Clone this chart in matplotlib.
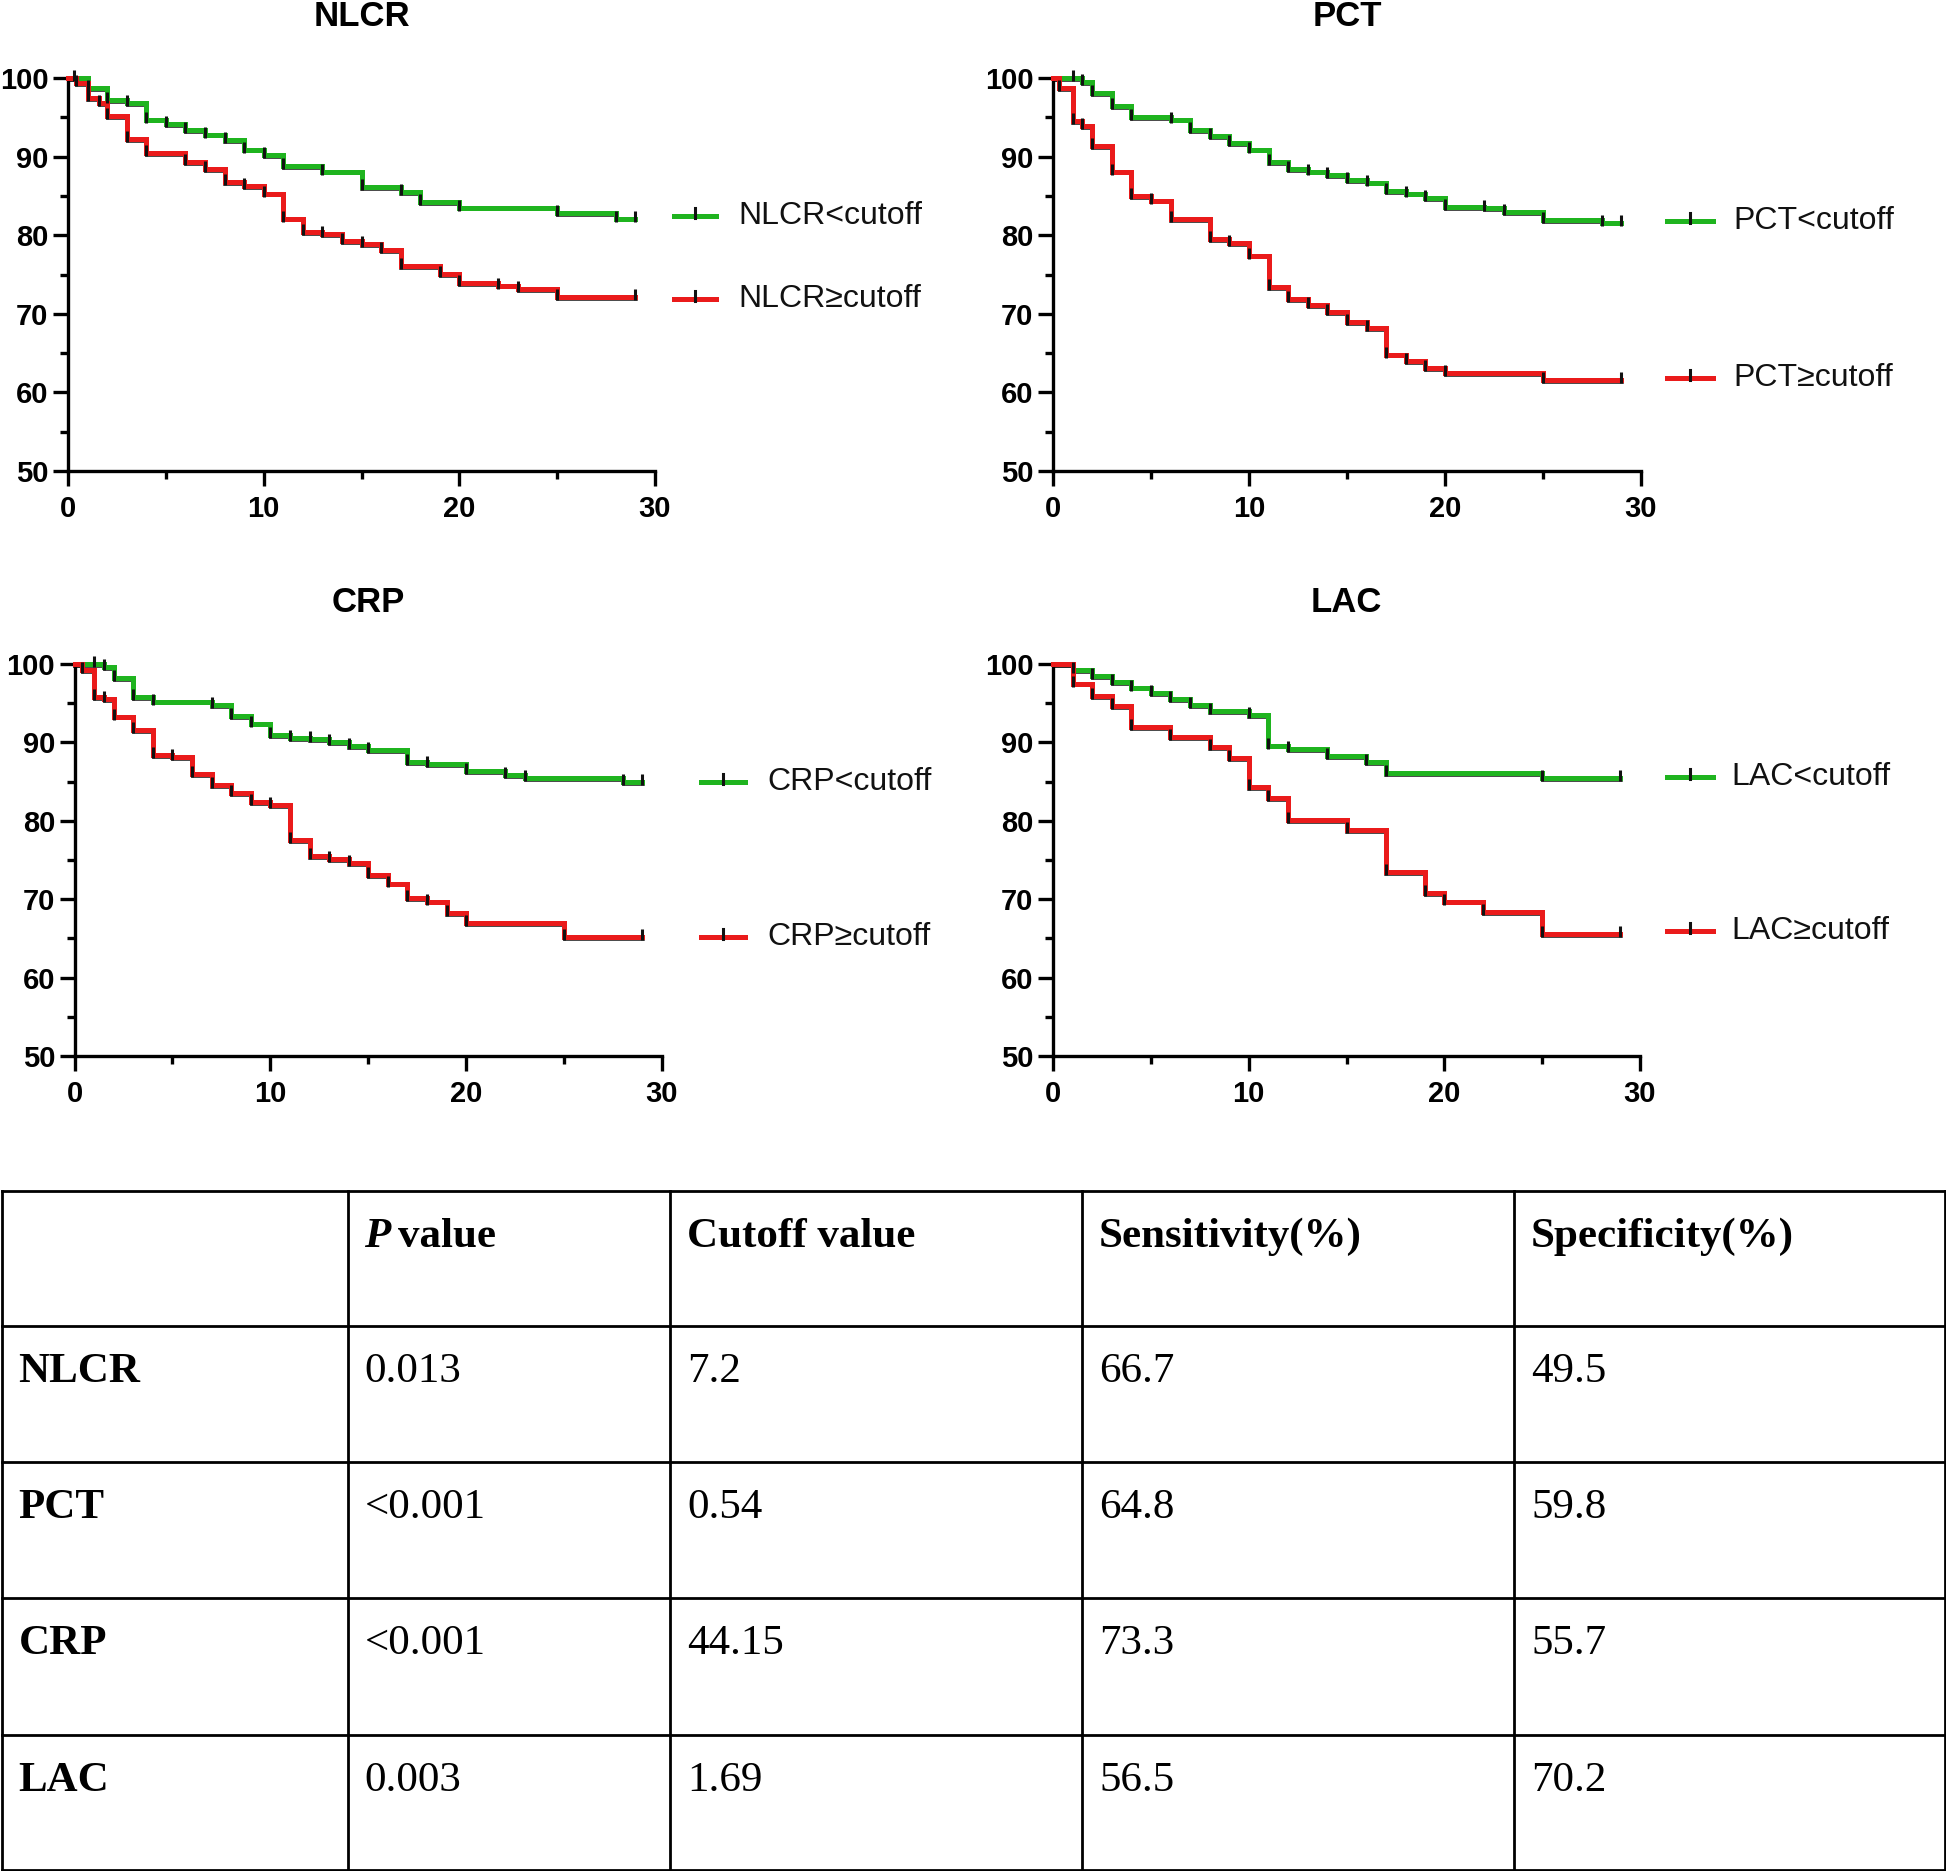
import numpy as np
import matplotlib
matplotlib.use("Agg")
import matplotlib.pyplot as plt
from matplotlib.lines import Line2D
import matplotlib.transforms as mtransforms

W, H = 1946, 1871
DPI = 100

GREEN = "#1fb41f"
RED = "#ea1b1b"

# ---------------- data ----------------
titles = ["NLCR", "PCT", "CRP", "LAC"]

nlcr_lo_t = [0, 1, 2, 3, 4, 5, 6, 7, 8, 9, 10, 11, 13, 15, 17, 18, 20, 25, 28, 29]
nlcr_lo_s = [100, 98.7, 97.2, 96.8, 94.7, 94.1, 93.4, 92.8, 92.1, 90.9, 90.2, 88.8, 88.1, 86.1, 85.5, 84.2, 83.5, 82.8, 82.1, 82.1]
nlcr_lo_c = [0.3, 1, 2, 3, 4, 5, 6, 7, 8, 9, 10, 11, 13, 15, 17, 18, 20, 25, 28, 29]
nlcr_hi_t = [0, 0.4, 1, 1.6, 2, 3, 4, 6, 7, 8, 9, 10, 11, 12, 13, 14, 15, 16, 17, 19, 20, 22, 23, 25, 29]
nlcr_hi_s = [100, 99.4, 97.4, 96.8, 95.2, 92.2, 90.4, 89.3, 88.4, 86.8, 86.2, 85.3, 82.1, 80.4, 80.1, 79.3, 78.9, 78.1, 76.1, 75.1, 73.9, 73.6, 73.1, 72.1, 72.1]
nlcr_hi_c = [0.4, 1, 1.6, 2, 3, 4, 6, 7, 8, 9, 10, 11, 12, 13, 14, 15, 16, 17, 19, 20, 22, 23, 25, 29]

pct_lo_t = [0, 1.5, 2, 3, 4, 6, 7, 8, 9, 10, 11, 12, 13, 14, 15, 16, 17, 18, 19, 20, 22, 23, 25, 28, 29]
pct_lo_s = [100, 99.5, 98.1, 96.4, 95.0, 94.7, 93.4, 92.6, 91.7, 90.9, 89.3, 88.4, 88.1, 87.6, 87.0, 86.7, 85.6, 85.3, 84.7, 83.6, 83.4, 82.9, 81.9, 81.6, 81.6]
pct_lo_c = [1, 1.5, 2, 3, 4, 6, 7, 8, 9, 10, 11, 12, 13, 14, 15, 16, 17, 18, 19, 20, 22, 23, 25, 28, 29]
pct_hi_t = [0, 0.3, 1, 1.5, 2, 3, 4, 5, 6, 8, 9, 10, 11, 12, 13, 14, 15, 16, 17, 18, 19, 20, 25, 29]
pct_hi_s = [100, 98.7, 94.5, 93.9, 91.3, 88.1, 85.0, 84.4, 82.0, 79.5, 79.0, 77.4, 73.4, 71.9, 71.1, 70.2, 68.9, 68.2, 64.8, 64.0, 63.1, 62.5, 61.6, 61.6]
pct_hi_c = [0.3, 1, 1.5, 2, 3, 4, 5, 6, 8, 9, 10, 11, 12, 13, 14, 15, 16, 17, 18, 19, 20, 25, 29]

crp_lo_t = [0, 1.5, 2, 3, 4, 7, 8, 9, 10, 11, 12, 13, 14, 15, 17, 18, 20, 22, 23, 28, 29]
crp_lo_s = [100, 99.6, 98.2, 95.8, 95.2, 94.8, 93.4, 92.4, 90.9, 90.6, 90.4, 90.0, 89.5, 89.0, 87.5, 87.2, 86.3, 85.8, 85.4, 84.9, 84.9]
crp_lo_c = [1, 1.5, 2, 3, 4, 7, 8, 9, 10, 11, 12, 13, 14, 15, 17, 18, 20, 22, 23, 28, 29]
crp_hi_t = [0, 0.4, 1, 1.5, 2, 3, 4, 5, 6, 7, 8, 9, 10, 11, 12, 13, 14, 15, 16, 17, 18, 19, 20, 25, 29]
crp_hi_s = [100, 99.2, 95.8, 95.5, 93.3, 91.6, 88.4, 88.1, 86.0, 84.6, 83.5, 82.4, 82.0, 77.5, 75.5, 75.1, 74.6, 73.1, 72.0, 70.1, 69.7, 68.2, 67.0, 65.2, 65.2]
crp_hi_c = [0.4, 1, 1.5, 2, 3, 4, 5, 6, 7, 8, 9, 10, 11, 12, 13, 14, 15, 16, 17, 18, 19, 20, 25, 29]

lac_lo_t = [0, 1, 2, 3, 4, 5, 6, 7, 8, 10, 11, 12, 14, 16, 17, 25, 29]
lac_lo_s = [100, 99.2, 98.5, 97.7, 97.0, 96.3, 95.5, 94.8, 94.0, 93.5, 89.6, 89.1, 88.3, 87.5, 86.1, 85.4, 85.4]
lac_lo_c = [1, 2, 3, 4, 5, 6, 7, 8, 10, 11, 12, 14, 16, 17, 25, 29]
lac_hi_t = [0, 1, 2, 3, 4, 6, 8, 9, 10, 11, 12, 15, 17, 19, 20, 22, 25, 29]
lac_hi_s = [100, 97.5, 95.9, 94.6, 92.0, 90.7, 89.4, 88.0, 84.3, 82.9, 80.1, 78.8, 73.5, 70.8, 69.7, 68.4, 65.6, 65.6]
lac_hi_c = [1, 2, 3, 4, 6, 8, 9, 10, 11, 12, 15, 17, 19, 20, 22, 25, 29]

curves = [
    (nlcr_lo_t, nlcr_lo_s, nlcr_lo_c, nlcr_hi_t, nlcr_hi_s, nlcr_hi_c),
    (pct_lo_t, pct_lo_s, pct_lo_c, pct_hi_t, pct_hi_s, pct_hi_c),
    (crp_lo_t, crp_lo_s, crp_lo_c, crp_hi_t, crp_hi_s, crp_hi_c),
    (lac_lo_t, lac_lo_s, lac_lo_c, lac_hi_t, lac_hi_s, lac_hi_c),
]

x_ticks = [0, 10, 20, 30]
y_ticks = [50, 60, 70, 80, 90, 100]

table_header = ["", "P value", "Cutoff value", "Sensitivity(%)", "Specificity(%)"]
table_rows = ["NLCR", "PCT", "CRP", "LAC"]
p_values = ["0.013", "<0.001", "<0.001", "0.003"]
cutoff_values = ["7.2", "0.54", "44.15", "1.69"]
sensitivity = ["66.7", "64.8", "73.3", "56.5"]
specificity = ["49.5", "59.8", "55.7", "70.2"]

# ---------------- layout (pixels) ----------------
panel_px = [
    (68, 655, 78, 471),
    (1053, 1641, 78, 471),
    (74.5, 662, 664, 1056),
    (1053, 1640, 664, 1056),
]
legend_px = [
    (674, 716, 738, 216, 299),
    (1667, 1713, 1733, 221, 378),
    (701, 745, 767, 782, 937),
    (1667, 1713, 1731, 777, 931),
]

fig = plt.figure(figsize=(W / DPI, H / DPI), dpi=DPI)


def fx(x):
    return x / W


def fy(y):
    return 1 - y / H


tick_marker = [(0, -0.45), (0, 1.0)]

for i, (ax_px, title, cv, lg) in enumerate(zip(panel_px, titles, curves, legend_px)):
    x0, x1, ytop, ybot = ax_px
    ax = fig.add_axes([fx(x0), fy(ybot), (x1 - x0) / W, (ybot - ytop) / H])
    ax.set_xlim(0, 30)
    ax.set_ylim(50, 100)
    for sp in ["top", "right"]:
        ax.spines[sp].set_visible(False)
    for sp in ["left", "bottom"]:
        ax.spines[sp].set_linewidth(2.4)
    ax.set_xticks(x_ticks)
    ax.set_xticks([5, 15, 25], minor=True)
    ax.set_yticks(y_ticks)
    ax.set_yticks([55, 65, 75, 85, 95], minor=True)
    ax.tick_params(axis="both", which="major", length=11, width=2.4, direction="out")
    ax.tick_params(axis="both", which="minor", length=6, width=2.4, direction="out")
    ax.tick_params(axis="x", which="major", pad=6)
    ax.tick_params(axis="y", which="major", pad=3)
    for lab in ax.get_xticklabels() + ax.get_yticklabels():
        lab.set_fontfamily("Liberation Sans")
        lab.set_fontweight("bold")
        lab.set_fontsize(21)

    shadow = mtransforms.offset_copy(ax.transData, fig=fig, x=0.6, y=-1.3, units="points")
    gt, gs, gc, rt, rs, rc = cv
    for t, s, c, col in [(gt, gs, gc, GREEN), (rt, rs, rc, RED)]:
        ax.step(t, s, where="post", color="#222222", lw=2.6, clip_on=False,
                transform=shadow, zorder=2, solid_joinstyle="miter")
        ax.step(t, s, where="post", color=col, lw=3.6, clip_on=False, zorder=3,
                solid_joinstyle="miter")
        t_arr = np.asarray(t, float)
        s_arr = np.asarray(s, float)
        idx = np.searchsorted(t_arr, np.asarray(c, float), side="right") - 1
        ax.plot(c, s_arr[idx], linestyle="none", marker=tick_marker, markersize=11,
                markeredgewidth=2.2, color="#111111", clip_on=False, zorder=4)

    fig.text(fx((x0 + x1) / 2), fy(16 if i < 2 else 602), title, ha="center", va="center",
             fontsize=25, fontweight="bold", family="Liberation Sans")

    lx0, lx1, tx, yg, yr = lg
    for yy, col, lab in [(yg, GREEN, title + "<cutoff"), (yr, RED, title + "\u2265cutoff")]:
        fig.add_artist(Line2D([fx(lx0), fx(lx1)], [fy(yy), fy(yy)], color=col, lw=3.6,
                              transform=fig.transFigure))
        fig.add_artist(Line2D([fx((lx0 + lx1) / 2)] * 2, [fy(yy + 2), fy(yy - 8)],
                              color="#111111", lw=2.2, transform=fig.transFigure))
        fig.text(fx(tx), fy(yy), lab, ha="left", va="center", fontsize=23,
                 family="Liberation Sans", color="#111111")

# ---------------- table ----------------
col_x = [1.5, 347.5, 670, 1082, 1514, 1944.5]
row_y = [1191, 1326, 1462, 1598, 1735, 1869.5]
lw_tab = 2.0
for xx in col_x:
    fig.add_artist(Line2D([fx(xx), fx(xx)], [fy(row_y[0]), fy(row_y[-1])], color="black",
                          lw=lw_tab, transform=fig.transFigure))
for yy in row_y:
    fig.add_artist(Line2D([fx(col_x[0]), fx(col_x[-1])], [fy(yy), fy(yy)], color="black",
                          lw=lw_tab, transform=fig.transFigure))

serif = "Liberation Serif"
fs_tab = 31
pad_x = 17
text_dy = 46
for j, h in enumerate(table_header):
    if not h:
        continue
    xx = col_x[j] + pad_x
    yy = row_y[0] + text_dy
    if h == "P value":
        fig.text(fx(xx), fy(yy), "P", ha="left", va="center", fontsize=fs_tab,
                 fontweight="bold", fontstyle="italic", family=serif)
        fig.text(fx(xx + 34), fy(yy), "value", ha="left", va="center", fontsize=fs_tab,
                 fontweight="bold", family=serif)
    else:
        fig.text(fx(xx), fy(yy), h, ha="left", va="center", fontsize=fs_tab,
                 fontweight="bold", family=serif)

for r, name in enumerate(table_rows):
    yy = row_y[r + 1] + text_dy
    vals = [name, p_values[r], cutoff_values[r], sensitivity[r], specificity[r]]
    for j, v in enumerate(vals):
        fig.text(fx(col_x[j] + pad_x), fy(yy), v, ha="left", va="center", fontsize=fs_tab,
                 fontweight="bold" if j == 0 else "normal", family=serif)

fig.savefig("out.png", dpi=DPI)
